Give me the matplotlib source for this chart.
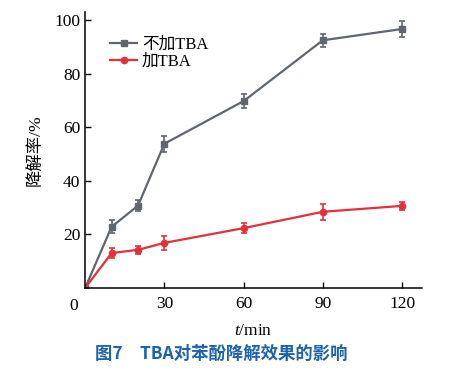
import matplotlib
matplotlib.use('Agg')
import matplotlib.pyplot as plt

# data
t = [0, 10, 20, 30, 60, 90, 120]
no_tba = [0, 22.8, 30.7, 53.8, 69.7, 92.4, 96.6]
no_tba_err = [0, 2.5, 2.0, 3.0, 2.5, 2.5, 3.0]
with_tba = [0, 13.0, 14.2, 16.8, 22.3, 28.4, 30.6]
with_tba_err = [0, 2.0, 1.5, 2.5, 2.0, 3.0, 1.5]
xticks = [30, 60, 90, 120]
yticks = [20, 40, 60, 80, 100]

serif = ['Liberation Serif', 'Noto Sans CJK SC']
plt.rcParams['font.family'] = serif
plt.rcParams['font.size'] = 11
plt.rcParams['mathtext.fontset'] = 'custom'
plt.rcParams['mathtext.it'] = 'Liberation Serif:italic'
plt.rcParams['mathtext.rm'] = 'Liberation Serif'

gray = '#5f666e'
red = '#e5303b'

fig = plt.figure(figsize=(4.58, 3.71), dpi=100)
ax = fig.add_axes([0.186, 0.224, 0.735, 0.744])

e1 = ax.errorbar(t, no_tba, yerr=no_tba_err, color=gray, marker='s', markersize=4,
                 lw=1.6, capsize=2, elinewidth=1.2, capthick=1.2)
e2 = ax.errorbar(t, with_tba, yerr=with_tba_err, color=red, marker='o', markersize=4.5,
                 lw=1.6, capsize=2, elinewidth=1.2, capthick=1.2)

ax.set_xlim(0, 127.5)
ax.set_ylim(0, 103)
ax.set_xticks(xticks)
ax.set_yticks(yticks)
ax.tick_params(direction='in', length=4, width=1, labelsize=12.5)
ax.tick_params(axis='x', pad=6)
for s in ['top', 'right']:
    ax.spines[s].set_visible(False)
for s in ['left', 'bottom']:
    ax.spines[s].set_linewidth(1.1)

ax.text(-0.02, -0.035, '0', transform=ax.transAxes, ha='right', va='top', fontsize=12.5)
ax.set_ylabel('降解率/%', fontsize=12.5, labelpad=8)
ax.set_xlabel('$t$/min', fontsize=12.5, labelpad=8)

ax.legend([e1.lines[0], e2.lines[0]], ['不加TBA', '加TBA'], loc='upper left',
          bbox_to_anchor=(0.03, 0.965), frameon=False, fontsize=12,
          handlelength=1.6, handletextpad=0.3, labelspacing=0.1)

fig.text(0.483, 0.045, '图7　TBA对苯酚降解效果的影响', ha='center', va='center',
         fontsize=12.5, color='#1c63ad', fontweight='bold',
         family=['Noto Sans CJK SC', 'DejaVu Sans'])

plt.savefig('out.png', dpi=100, facecolor='white')
